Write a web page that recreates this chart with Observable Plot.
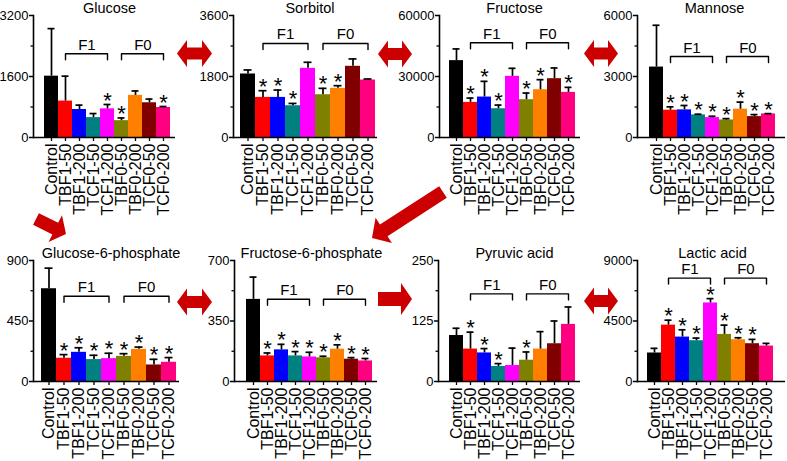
<!DOCTYPE html>
<html><head><meta charset="utf-8">
<script src="https://cdn.jsdelivr.net/npm/d3@7"></script>
<script src="https://cdn.jsdelivr.net/npm/@observablehq/plot@0.6"></script>
<style>
html,body{margin:0;padding:0;background:#fff;}
#fig{position:relative;width:787px;height:461px;overflow:hidden;background:#fff;font-family:"Liberation Sans",Arial,sans-serif;}
#fig > svg{position:absolute;}
</style></head><body><div id="fig"></div>
<script>
// ---- data ----
const groups = ["Control","TBF1-50","TBF1-200","TCF1-50","TCF1-200","TBF0-50","TBF0-200","TCF0-50","TCF0-200"];
const colors = ["#000000","#ff0000","#0000ff","#008080","#ff00ff","#808000","#ff8000","#800000","#ff0080"];
const titles = ["Glucose","Sorbitol","Fructose","Mannose","Glucose-6-phosphate","Fructose-6-phosphate","Pyruvic acid","Lactic acid"];
const yMax = [3200,3600,60000,6000,900,700,250,9000];
const bracketLevel = [2195,2774,46573,3983,634,476,181,7690];
const bracketLabels = ["F1","F0"];

const glucoseMean  = [1609,955,734,522,752,442,1105,911,787];
const glucoseSD    = [1247,654,115,106,114,71,115,97,26];
const glucoseSig   = [0,0,0,0,1,1,0,0,1];
const sorbitolMean = [1874,1183,1183,937,2041,1262,1450,2101,1696];
const sorbitolSD   = [118,198,217,69,178,188,79,217,30];
const sorbitolSig  = [0,1,1,1,0,1,1,0,0];
const fructoseMean = [37809,17260,19890,14137,30082,18575,23507,28931,22192];
const fructoseSD   = [5753,2137,7726,1809,3945,3288,4931,5261,2466];
const fructoseSig  = [0,1,1,1,0,1,1,0,1];
const mannoseMean  = [3464,1343,1359,1111,978,862,1392,1028,1160];
const mannoseSD    = [2055,165,216,33,66,66,348,99,15];
const mannoseSig   = [0,1,1,1,1,1,1,1,1];
const g6pMean      = [690,173,217,163,170,187,239,123,143];
const g6pSD        = [153,27,34,32,40,20,17,42,35];
const g6pSig       = [0,1,1,1,1,1,1,1,1];
const f6pMean      = [475,148,183,148,142,137,187,129,119];
const f6pSD        = [129,17,32,25,27,9,25,9,14];
const f6pSig       = [0,1,1,1,1,1,1,1,1];
const pyruvicMean  = [95,67,59,31,33,44,67,78,118];
const pyruvicSD    = [15,35,9,6,36,17,36,47,36];
const pyruvicSig   = [0,1,1,1,0,1,0,0,0];
const lacticMean   = [2120,4192,3304,3033,5843,3501,3107,2811,2638];
const lacticSD     = [346,369,542,197,321,691,147,320,197];
const lacticSig    = [0,1,1,1,1,1,1,1,0];

const means = [glucoseMean,sorbitolMean,fructoseMean,mannoseMean,g6pMean,f6pMean,pyruvicMean,lacticMean];
const sds   = [glucoseSD,sorbitolSD,fructoseSD,mannoseSD,g6pSD,f6pSD,pyruvicSD,lacticSD];
const sigs  = [glucoseSig,sorbitolSig,fructoseSig,mannoseSig,g6pSig,f6pSig,pyruvicSig,lacticSig];

// ---- layout (pixels) ----
const layout = [
  {left:0,   top:0,   h:230, mt:15, mb:93, axis:33,  b0:40,  b1:173, end:175},
  {left:195, top:0,   h:230, mt:15, mb:93, axis:233, b0:240, b1:375, end:377},
  {left:390, top:0,   h:230, mt:15, mb:93, axis:439, b0:446, b1:578, end:580},
  {left:585, top:0,   h:230, mt:15, mb:93, axis:637, b0:645, b1:778, end:785},
  {left:0,   top:230, h:231, mt:30, mb:80, axis:33,  b0:40,  b1:177, end:179},
  {left:195, top:230, h:231, mt:30, mb:80, axis:234, b0:242, b1:375, end:377},
  {left:390, top:230, h:231, mt:30, mb:80, axis:438, b0:446, b1:578, end:580},
  {left:585, top:230, h:231, mt:30, mb:80, axis:637, b0:643, b1:776, end:785}
];
const arrows = [
  {x1:177,y1:53.5,x2:212,y2:53.5,sw:12,hw:27,hl:10,dbl:true},
  {x1:378,y1:54,x2:412,y2:54,sw:12,hw:27,hl:10,dbl:true},
  {x1:584,y1:53.5,x2:618,y2:53.5,sw:12,hw:27,hl:10,dbl:true},
  {x1:177,y1:302,x2:212,y2:302,sw:12,hw:27,hl:10,dbl:true},
  {x1:584,y1:301,x2:618,y2:301,sw:12,hw:27,hl:10,dbl:true},
  {x1:378,y1:299,x2:412,y2:299,sw:14,hw:32,hl:11,dbl:false},
  {x1:36,y1:219,x2:66,y2:234,sw:13,hw:30,hl:12,dbl:false},
  {x1:443,y1:192,x2:372,y2:238,sw:14,hw:30,hl:14,dbl:false}
];

const fig = document.getElementById("fig");
const FONT = "'Liberation Sans', Arial, sans-serif";

layout.forEach((L, i) => {
  const top = yMax[i];
  const data = groups.map((g, j) => ({g, v: means[i][j], e: sds[i][j], s: sigs[i][j], c: colors[j]}));
  const width = L.end - L.left + 2;
  const plotH = L.h - L.mt - L.mb;
  const drop = top * 6 / plotH;
  const bw = (L.b1 - L.b0) / groups.length;
  const lvl = bracketLevel[i];
  const bracket = [];
  [["F1", "TBF1-50", "TCF1-200"], ["F0", "TBF0-50", "TCF0-200"]].forEach(([z, a, b]) => {
    bracket.push({z, g: a, y: lvl - drop}, {z, g: a, y: lvl}, {z, g: b, y: lvl}, {z, g: b, y: lvl - drop});
  });
  const svg = Plot.plot({
    width, height: L.h,
    marginLeft: L.axis - L.left, marginRight: 2, marginTop: L.mt, marginBottom: L.mb,
    style: {fontFamily: FONT, background: "transparent", overflow: "visible", color: "#000"},
    x: {type: "band", domain: groups, padding: 0, insetLeft: L.b0 - L.axis, insetRight: L.end - L.b1, label: null},
    y: {domain: [0, top], label: null},
    marks: [
      Plot.barY(data, {x: "g", y: "v", fill: "c"}),
      Plot.ruleX(data, {x: "g", y1: "v", y2: d => d.v + d.e, stroke: "#000", strokeWidth: 1.7}),
      Plot.tickY(data, {x: "g", y: d => d.v + d.e, insetLeft: 3.5, insetRight: 3.5, stroke: "#000", strokeWidth: 1.7}),
      Plot.text(data.filter(d => d.s), {x: "g", y: d => d.v + d.e, text: () => "*", fontSize: 22, dy: -4, fill: "#000"}),
      Plot.line(bracket, {x: "g", y: "y", z: "z", stroke: "#000", strokeWidth: 1.4}),
      Plot.text(bracketLabels, {x: ["TBF1-200", "TBF0-200"], y: [lvl, lvl], text: d => d, dx: bw / 2, dy: -4, lineAnchor: "bottom", fontSize: 15, fill: "#000"}),
      Plot.text([titles[i]], {x: () => "TCF1-200", frameAnchor: "top", text: d => d, lineAnchor: "bottom", dy: -3, dx: 2, fontSize: 14.5, fill: "#000"}),
      Plot.axisY({ticks: [0, top / 2, top], tickSize: 4, tickPadding: 1, tickFormat: d => String(d), fontSize: 13, strokeWidth: 1.5}),
      Plot.axisY({ticks: [top / 4, 3 * top / 4], tickSize: 2.5, tickFormat: () => "", strokeWidth: 1.3}),
      Plot.axisX({tickRotate: -90, tickSize: 4, tickPadding: 2, fontSize: 16, strokeWidth: 1.3}),
      Plot.ruleY([0], {stroke: "#000", strokeWidth: 1.6}),
      Plot.frame({anchor: "left", stroke: "#000", strokeWidth: 1.6})
    ]
  });
  svg.style.left = L.left + "px";
  svg.style.top = L.top + "px";
  fig.appendChild(svg);
});

// decorative arrows
const NS = "http://www.w3.org/2000/svg";
const ov = document.createElementNS(NS, "svg");
ov.setAttribute("width", 787); ov.setAttribute("height", 461);
ov.style.left = "0px"; ov.style.top = "0px"; ov.style.pointerEvents = "none";
arrows.forEach(a => {
  const dx = a.x2 - a.x1, dy = a.y2 - a.y1, len = Math.hypot(dx, dy);
  const ux = dx / len, uy = dy / len, nx = -uy, ny = ux;
  const P = (x, y, t, w) => [x + ux * t + nx * w, y + uy * t + ny * w];
  let pts;
  if (a.dbl) {
    pts = [
      [a.x1, a.y1], P(a.x1, a.y1, a.hl, a.hw / 2), P(a.x1, a.y1, a.hl, a.sw / 2),
      P(a.x2, a.y2, -a.hl, a.sw / 2), P(a.x2, a.y2, -a.hl, a.hw / 2), [a.x2, a.y2],
      P(a.x2, a.y2, -a.hl, -a.hw / 2), P(a.x2, a.y2, -a.hl, -a.sw / 2),
      P(a.x1, a.y1, a.hl, -a.sw / 2), P(a.x1, a.y1, a.hl, -a.hw / 2)
    ];
  } else {
    pts = [
      P(a.x1, a.y1, 0, a.sw / 2), P(a.x2, a.y2, -a.hl, a.sw / 2), P(a.x2, a.y2, -a.hl, a.hw / 2),
      [a.x2, a.y2], P(a.x2, a.y2, -a.hl, -a.hw / 2), P(a.x2, a.y2, -a.hl, -a.sw / 2), P(a.x1, a.y1, 0, -a.sw / 2)
    ];
  }
  const poly = document.createElementNS(NS, "polygon");
  poly.setAttribute("points", pts.map(p => p.join(",")).join(" "));
  poly.setAttribute("fill", "#cc0000");
  ov.appendChild(poly);
});
fig.appendChild(ov);
</script>
</body></html>
